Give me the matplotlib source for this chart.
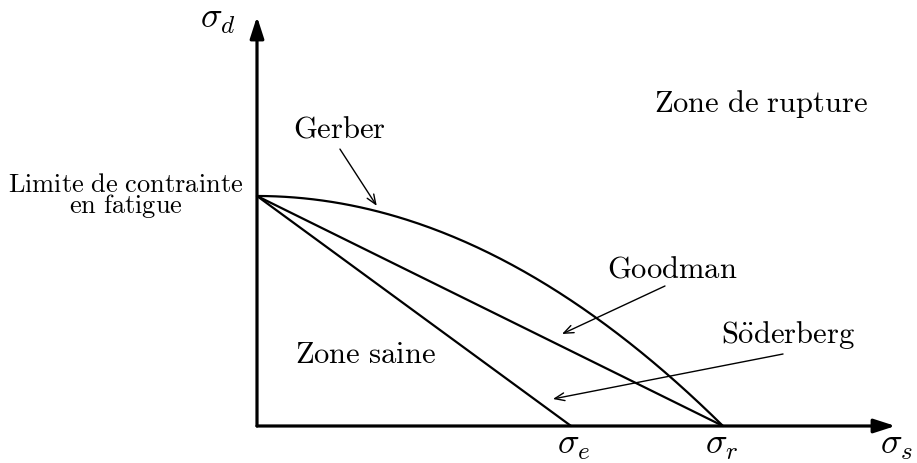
import numpy as np
import matplotlib
matplotlib.use("Agg")
import matplotlib.pyplot as plt

plt.rcParams['mathtext.fontset'] = 'cm'

# Data (normalised: sigma_r = 1, fatigue limit = 1)
sigma_r = 1.0
sigma_e = 0.674
S_lim = 1.0
x_axis_end = 1.37
y_axis_end = 1.78

labels = {
    'gerber': r'$\mathrm{Gerber}$',
    'goodman': r'$\mathrm{Goodman}$',
    'soder': r'$\mathrm{S\ddot{o}derberg}$',
    'rupture': r'$\mathrm{Zone\ de\ rupture}$',
    'saine': r'$\mathrm{Zone\ saine}$',
    'limite': '$\\mathrm{Limite\\ de\\ contrainte}$\n$\\mathrm{en\\ fatigue}$',
}

fig = plt.figure(figsize=(9.17, 4.64), dpi=100)
ax = fig.add_axes([0, 0, 1, 1])
ax.set_xlim(-0.5515, 1.4163)
ax.set_ylim(-0.1609, 1.8565)
ax.axis('off')

# Axes arrows
head = '-|>,head_length=1.3,head_width=0.42'
ax.annotate('', xy=(x_axis_end, 0), xytext=(0, 0),
            arrowprops=dict(arrowstyle=head, lw=2.3, color='black',
                            shrinkA=0, shrinkB=0))
ax.annotate('', xy=(0, y_axis_end), xytext=(0, 0),
            arrowprops=dict(arrowstyle=head, lw=2.3, color='black',
                            shrinkA=0, shrinkB=0))

# Curves
xs = np.linspace(0, sigma_r, 200)
ax.plot(xs, S_lim * (1 - (xs / sigma_r) ** 2), color='black', lw=1.6,
        solid_capstyle='round')
ax.plot([0, sigma_r], [S_lim, 0], color='black', lw=1.6, solid_capstyle='round')
ax.plot([0, sigma_e], [S_lim, 0], color='black', lw=1.6, solid_capstyle='round')

fs = 22
arrow_kw = dict(arrowstyle='->,head_length=0.7,head_width=0.28', lw=1.0,
                color='black', shrinkA=0, shrinkB=0)

ax.annotate('', xy=(0.257, 0.957), xytext=(0.178, 1.204), arrowprops=arrow_kw)
ax.annotate('', xy=(0.6545, 0.400), xytext=(0.8755, 0.6087), arrowprops=arrow_kw)
ax.annotate('', xy=(0.635, 0.1174), xytext=(1.1288, 0.313), arrowprops=arrow_kw)

ax.text(0.178, 1.2565, labels['gerber'], fontsize=fs, ha='center', va='baseline')
ax.text(0.891, 0.652, labels['goodman'], fontsize=fs, ha='center', va='baseline')
ax.text(1.1395, 0.365, labels['soder'], fontsize=fs, ha='center', va='baseline')
ax.text(1.0815, 1.3696, labels['rupture'], fontsize=fs, ha='center', va='baseline')
ax.text(0.2318, 0.278, labels['saine'], fontsize=fs, ha='center', va='baseline')
ax.text(-0.2811, 1.004, labels['limite'], fontsize=19, ha='center', va='center',
        multialignment='center', linespacing=0.75)

sfs = 26
ax.text(-0.1223, 1.7348, r'$\sigma_d$', fontsize=sfs, ha='left', va='baseline')
ax.text(0.6438, -0.1174, r'$\sigma_e$', fontsize=sfs, ha='left', va='baseline')
ax.text(0.9614, -0.1174, r'$\sigma_r$', fontsize=sfs, ha='left', va='baseline')
ax.text(1.3369, -0.1174, r'$\sigma_s$', fontsize=sfs, ha='left', va='baseline')

fig.savefig('out.png', dpi=100)
